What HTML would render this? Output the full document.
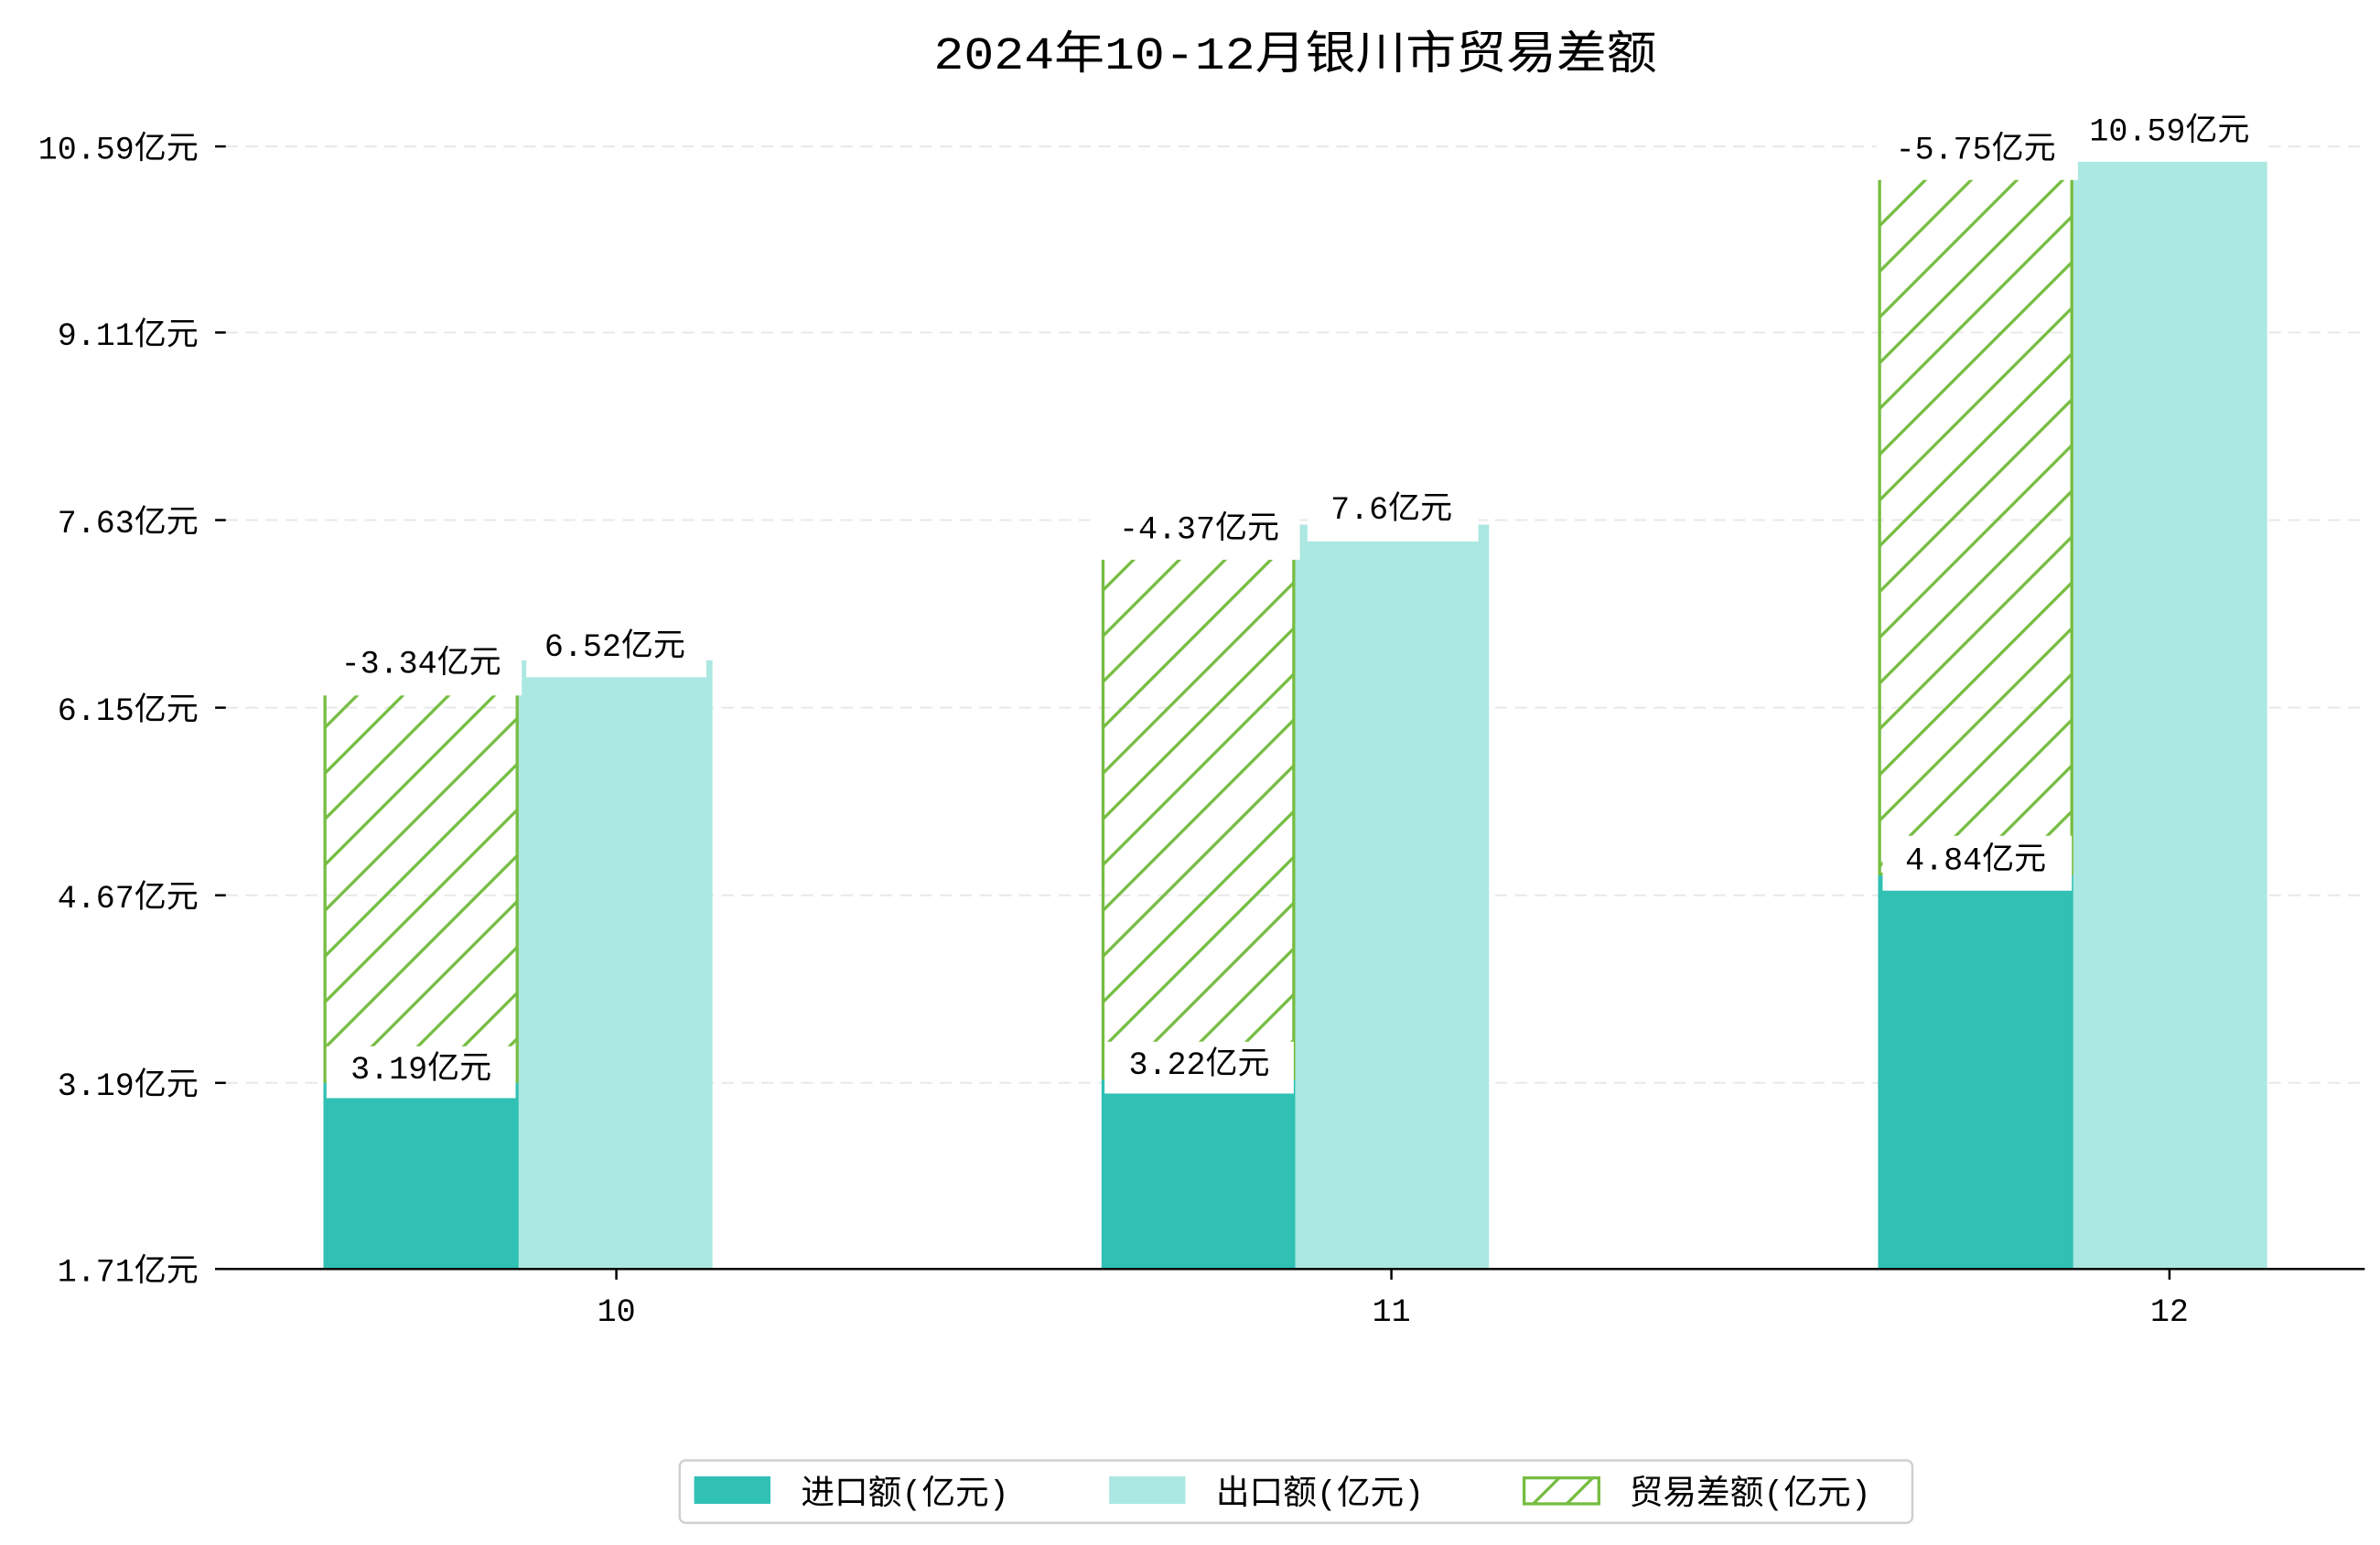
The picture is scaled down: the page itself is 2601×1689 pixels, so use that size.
<!DOCTYPE html>
<html><head><meta charset="utf-8"><style>
html,body{margin:0;padding:0;background:#fff;}
svg{display:block;}
text{font-family:"Liberation Mono","Noto Sans CJK SC",monospace;fill:#000;}
</style></head><body>
<svg width="2601" height="1689" viewBox="0 0 1560 1013" xmlns="http://www.w3.org/2000/svg">
<defs>
<pattern id="h" patternUnits="userSpaceOnUse" width="30" height="30">
<path d="M-5,35 L35,-5 M-5,5 L5,-5 M25,35 L35,25" stroke="#76bd42" stroke-width="2"/>
</pattern>
</defs>
<text x="849" y="45" font-size="30" text-anchor="middle" textLength="474" lengthAdjust="spacingAndGlyphs">2024年10-12月银川市贸易差额</text>
<g stroke="#e8e8e8" stroke-width="1.2" stroke-dasharray="8,5">
<line x1="148" y1="96" x2="1550" y2="96"/><line x1="148" y1="218" x2="1550" y2="218"/>
<line x1="148" y1="341" x2="1550" y2="341"/><line x1="148" y1="464" x2="1550" y2="464"/>
<line x1="148" y1="587" x2="1550" y2="587"/><line x1="148" y1="710" x2="1550" y2="710"/>
</g>
<g stroke="#000" stroke-width="1.5">
<line x1="141" y1="96" x2="148" y2="96"/><line x1="141" y1="218" x2="148" y2="218"/>
<line x1="141" y1="341" x2="148" y2="341"/><line x1="141" y1="464" x2="148" y2="464"/>
<line x1="141" y1="587" x2="148" y2="587"/><line x1="141" y1="710" x2="148" y2="710"/>
<line x1="141" y1="832" x2="148" y2="832"/>
<line x1="404" y1="832" x2="404" y2="839"/><line x1="912" y1="832" x2="912" y2="839"/><line x1="1422" y1="832" x2="1422" y2="839"/>
</g>
<g font-size="21" text-anchor="end">
<text x="130" y="104">10.59亿元</text><text x="130" y="226">9.11亿元</text>
<text x="130" y="349">7.63亿元</text><text x="130" y="472">6.15亿元</text>
<text x="130" y="595">4.67亿元</text><text x="130" y="718">3.19亿元</text>
<text x="130" y="840">1.71亿元</text>
</g>
<g font-size="21" text-anchor="middle">
<text x="404" y="866">10</text><text x="912" y="866">11</text><text x="1422" y="866">12</text>
</g>
<rect x="212" y="709" width="128" height="123" fill="#30c0b4"/>
<rect x="722" y="707" width="127" height="125" fill="#30c0b4"/>
<rect x="1231" y="573" width="128" height="259" fill="#30c0b4"/>
<rect x="340" y="433" width="127" height="399" fill="#abe8e1"/>
<rect x="849" y="344" width="127" height="488" fill="#abe8e1"/>
<rect x="1359" y="106" width="127" height="726" fill="#abe8e1"/>
<rect x="213" y="432" width="126" height="277" fill="url(#h)" stroke="#76bd42" stroke-width="2"/>
<rect x="723" y="345" width="125" height="362" fill="url(#h)" stroke="#76bd42" stroke-width="2"/>
<rect x="1232" y="96" width="126" height="477" fill="url(#h)" stroke="#76bd42" stroke-width="2"/>
<line x1="141" y1="832" x2="1550" y2="832" stroke="#000" stroke-width="1.5"/>
<g fill="#fff">
<rect x="214" y="686" width="124" height="34"/><rect x="724" y="683" width="124" height="34"/><rect x="1234" y="548" width="124" height="36"/>
<rect x="210" y="420" width="132" height="36"/><rect x="720" y="332" width="132" height="35"/><rect x="1230" y="84" width="132" height="34"/>
<rect x="345" y="410" width="118" height="34"/><rect x="857" y="322" width="112" height="33"/><rect x="1362" y="72" width="122" height="34"/>
</g>
<g font-size="21" text-anchor="middle">
<text x="276" y="707">3.19亿元</text><text x="786" y="704">3.22亿元</text><text x="1295" y="570">4.84亿元</text>
<text x="276" y="441">-3.34亿元</text><text x="786" y="353">-4.37亿元</text><text x="1295" y="104">-5.75亿元</text>
<text x="403" y="430">6.52亿元</text><text x="912" y="340">7.6亿元</text><text x="1422" y="92">10.59亿元</text>
</g>
<rect x="445.5" y="957.5" width="808" height="41" rx="4" fill="#fff" stroke="#d0d0d0" stroke-width="1.5"/>
<rect x="455" y="968" width="50" height="18" fill="#30c0b4"/>
<rect x="727" y="968" width="50" height="18" fill="#abe8e1"/>
<rect x="999" y="969" width="49" height="17" fill="#fff" stroke="#76bd42" stroke-width="2"/>
<path d="M1005,986 L1022,969 M1027,986 L1044,969" stroke="#76bd42" stroke-width="2"/>
<g font-size="22">
<text x="525" y="986">进口额(亿元)</text><text x="797" y="986">出口额(亿元)</text><text x="1068" y="986">贸易差额(亿元)</text>
</g>
</svg>
</body></html>
